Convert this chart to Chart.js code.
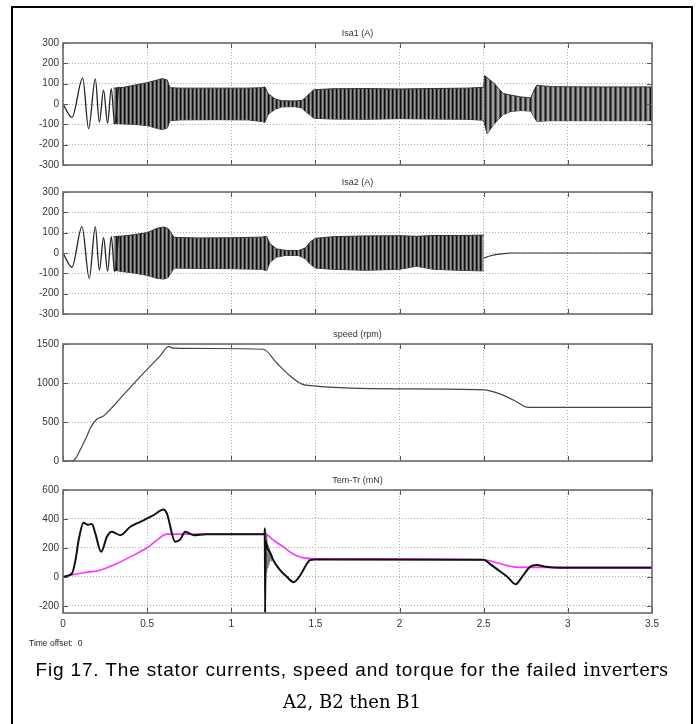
<!DOCTYPE html>
<html>
<head>
<meta charset="utf-8">
<script src="https://cdn.jsdelivr.net/npm/chart.js@4/dist/chart.umd.min.js"></script>
<style>
body{margin:0;background:#fff;width:696px;height:724px;overflow:hidden;position:relative}
#frame{position:absolute;left:11px;top:6px;width:678px;height:740px;border:2px solid #000}
.box{position:absolute;left:0;width:696px}
#offset{position:absolute;left:29px;top:638px;font:8.5px "Liberation Sans",Arial,sans-serif;color:#223}
#cap{position:absolute;left:13px;top:655px;width:678px;text-align:center;line-height:32px;color:#000;white-space:nowrap}
.sans{font:19px "Liberation Sans",Arial,sans-serif;letter-spacing:0.85px}
.serif{font:18px "DejaVu Serif",serif}
.inv{letter-spacing:0.3px}
</style>
</head>
<body>
<div id="frame"></div>
<div class="box" style="top:21px;height:154px"><canvas id="c1"></canvas></div>
<div class="box" style="top:170px;height:154px"><canvas id="c2"></canvas></div>
<div class="box" style="top:322px;height:149px"><canvas id="c3"></canvas></div>
<div class="box" style="top:468px;height:169px"><canvas id="c4"></canvas></div>
<div id="offset">Time offset:&nbsp;&nbsp;0</div>
<div id="cap"><span class="sans">Fig 17. The stator currents, speed and torque for the failed </span><span class="serif inv">inverters</span><br><span class="serif">A2, B2 then B1</span></div>
<script>
const titles = ["Isa1 (A)", "Isa2 (A)", "speed (rpm)", "Tem-Tr (mN)"]

const timeTicks = [0, 0.5, 1, 1.5, 2, 2.5, 3, 3.5]
const currentTicks = [-300, -200, -100, 0, 100, 200, 300]
const speedTicks = [0, 500, 1000, 1500]
const torqueTicks = [-200, 0, 200, 400, 600]

// Isa1 : start-up swings, then envelope of the fast oscillation
const isa1StartT = [0, 0.053, 0.117, 0.152, 0.192, 0.216, 0.241, 0.265, 0.287, 0.307, 0.330]
const isa1StartV = [0, -66, 127, -121, 124, -89, 68, -94, 76, -98, 84]
const isa1BandT = [0.30, 0.36, 0.42, 0.50, 0.56, 0.59, 0.62, 0.635, 0.70, 0.90, 1.10, 1.18, 1.20, 1.22, 1.26, 1.30, 1.38, 1.42, 1.44, 1.47, 1.49, 1.60, 1.80, 2.00, 2.20, 2.40, 2.50]
const isa1BandHi = [78, 82, 92, 105, 118, 125, 118, 80, 78, 78, 78, 80, 84, 50, 25, 16, 15, 18, 30, 55, 70, 75, 76, 74, 76, 78, 82]
const isa1BandLo = [-96, -98, -100, -106, -120, -126, -118, -82, -78, -77, -78, -86, -90, -50, -26, -14, -13, -20, -37, -55, -70, -74, -75, -72, -74, -75, -80]
const isa1TailT = [2.50, 2.505, 2.52, 2.56, 2.615, 2.66, 2.72, 2.78, 2.80, 2.815, 2.9, 3.2, 3.5]
const isa1TailHi = [82, 140, 130, 103, 52, 44, 35, 30, 70, 92, 85, 84, 84]
const isa1TailLo = [-80, -100, -147, -100, -53, -37, -32, -35, -65, -85, -82, -82, -82]

// Isa2
const isa2StartT = [0, 0.053, 0.113, 0.156, 0.192, 0.216, 0.241, 0.265, 0.287, 0.307, 0.330]
const isa2StartV = [0, -70, 130, -125, 130, -85, 75, -90, 80, -92, 84]
const isa2BandT = [0.30, 0.36, 0.42, 0.50, 0.56, 0.60, 0.625, 0.66, 0.80, 1.00, 1.18, 1.21, 1.23, 1.27, 1.32, 1.40, 1.44, 1.47, 1.50, 1.60, 1.80, 2.00, 2.10, 2.20, 2.35, 2.50]
const isa2BandHi = [80, 84, 90, 100, 122, 128, 120, 77, 74, 75, 78, 82, 45, 20, 13, 12, 25, 55, 72, 80, 84, 85, 82, 86, 86, 88]
const isa2BandLo = [-84, -92, -98, -110, -125, -128, -120, -74, -76, -77, -80, -87, -45, -20, -12, -12, -28, -55, -74, -80, -85, -80, -65, -80, -85, -88]
const isa2TailT = [2.5, 2.53, 2.57, 2.62, 2.66, 3.5]
const isa2TailV = [-25, -16, -8, -3, 0, 0]

// speed
const speedT = [0, 0.06, 0.073, 0.09, 0.113, 0.14, 0.162, 0.2, 0.241, 0.30, 0.36, 0.43, 0.5, 0.578, 0.627, 0.657, 0.9, 1.19, 1.27, 1.35, 1.42, 1.49, 1.71, 2.0, 2.5, 2.6, 2.7, 2.755, 2.8, 3.5]
const speedV = [0, 5, 30, 90, 190, 310, 420, 535, 578, 705, 850, 1015, 1174, 1350, 1467, 1446, 1442, 1433, 1257, 1089, 985, 963, 934, 925, 912, 858, 754, 691, 688, 688]

// torque
const temT = [0, 0.053, 0.075, 0.093, 0.122, 0.147, 0.172, 0.192, 0.227, 0.261, 0.291, 0.34, 0.4, 0.459, 0.538, 0.597, 0.617, 0.667, 0.697, 0.726, 0.776, 0.85, 1.198, 1.2, 1.201, 1.204, 1.215, 1.23, 1.25, 1.29, 1.33, 1.37, 1.41, 1.45, 1.468, 1.5, 2.5, 2.54, 2.6, 2.64, 2.69, 2.725, 2.775, 2.815, 2.87, 2.95, 3.5]
const temV = [0, 23, 120, 254, 374, 360, 365, 300, 173, 277, 311, 288, 346, 380, 426, 466, 439, 242, 259, 311, 288, 295, 295, 335, -250, 250, 200, 170, 115, 46, 0, -37, 11, 92, 115, 120, 118, 86, 35, 0, -51, -5, 69, 81, 69, 63, 63]
const rippleT = [1.195, 1.197, 1.199, 1.201, 1.203, 1.205, 1.207, 1.209, 1.212, 1.215, 1.218, 1.221, 1.224, 1.228, 1.232, 1.236, 1.24, 1.245, 1.25]
const rippleV = [300, -20, 330, -20, 320, 0, 300, 30, 260, 60, 220, 80, 200, 100, 170, 110, 150, 120, 115]
const trT = [0, 0.122, 0.221, 0.32, 0.42, 0.5, 0.558, 0.617, 1.2, 1.25, 1.31, 1.37, 1.43, 1.5, 2.5, 2.577, 2.676, 2.735, 3.5]
const trV = [0, 28, 46, 92, 150, 201, 254, 295, 295, 253, 207, 156, 131, 125, 118, 97, 69, 65, 65]


function pts(t, v){
return t.map((x,i)=>({x:x, y:v[i]}))
}

function stripes(cols){
const c = document.createElement("canvas")
c.width = cols.length
c.height = 1
const g = c.getContext("2d")
cols.forEach((col,i)=>{
g.fillStyle = col
g.fillRect(i,0,1,1)
})
return g.createPattern(c,"repeat")
}

const dense = stripes(["#111","#444","#9a9a9a","#666"])
const sparse = stripes(["#1a1a1a","#555","#999","#a8a8a8","#555"])

// frame, inward ticks in the scope style
const scopePlugin = {
id:"scope",
afterDraw(chart){
const {ctx, chartArea:a, scales:{x,y}} = chart
ctx.save()
ctx.strokeStyle = "#555"
ctx.lineWidth = 1
ctx.beginPath()
x.ticks.forEach(t=>{
const px = Math.round(x.getPixelForValue(t.value))+0.5
ctx.moveTo(px,a.top); ctx.lineTo(px,a.top+5)
ctx.moveTo(px,a.bottom); ctx.lineTo(px,a.bottom-5)
})
y.ticks.forEach(t=>{
const py = Math.round(y.getPixelForValue(t.value))+0.5
ctx.moveTo(a.left,py); ctx.lineTo(a.left+5,py)
ctx.moveTo(a.right,py); ctx.lineTo(a.right-5,py)
})
ctx.stroke()
ctx.strokeStyle = "#6a6a6a"
ctx.lineWidth = 1.6
ctx.strokeRect(a.left, a.top, a.right-a.left, a.bottom-a.top)
ctx.restore()
}
}

function makeChart(id, idx, datasets, yMin, yMax, yTicks, showX){
return new Chart(document.getElementById(id),{
type:"line",
data:{datasets},
plugins:[scopePlugin],
options:{
responsive:true,
maintainAspectRatio:false,
animation:false,
layout:{padding:{left:13, right:44, top:7.2, bottom: showX ? 4 : 8}},
elements:{point:{radius:0}, line:{borderJoinStyle:"round"}},
plugins:{
legend:{display:false},
tooltip:{enabled:false},
title:{
display:true,
text:titles[idx],
fullSize:false,
color:"#333",
font:{family:"Liberation Sans", size:9, weight:"normal"},
padding:{top:0, bottom:4}
}
},
scales:{
x:{
type:"linear",
min:0, max:3.5,
afterBuildTicks:s=>{ s.ticks = timeTicks.map(v=>({value:v})) },
afterFit:s=>{ s.height = showX ? 20 : 0 },
grid:{color:"#aaa", drawTicks:false},
border:{display:false, dash:[1,2]},
ticks:{display:showX, padding:5, color:"#333", font:{family:"Liberation Sans", size:10}, callback:v=>String(v), maxRotation:0}
},
y:{
min:yMin, max:yMax,
afterBuildTicks:s=>{ s.ticks = yTicks.map(v=>({value:v})) },
afterFit:s=>{ s.width = 50 },
grid:{color:"#aaa", drawTicks:false},
border:{display:false, dash:[1,2]},
ticks:{padding:4, color:"#333", font:{family:"Liberation Sans", size:10}, callback:v=>String(v)}
}
}
}
})
}

function bandSets(t, hi, lo, pattern){
return [
{data:pts(t,hi), borderColor:"#333", borderWidth:1, backgroundColor:pattern, fill:"+1", tension:0},
{data:pts(t,lo), borderColor:"#333", borderWidth:1, fill:false, tension:0}
]
}

makeChart("c1", 0, [
{data:pts(isa1StartT,isa1StartV), borderColor:"#222", borderWidth:1.3, cubicInterpolationMode:"monotone", fill:false},
...bandSets(isa1BandT, isa1BandHi, isa1BandLo, dense),
...bandSets(isa1TailT, isa1TailHi, isa1TailLo, sparse)
], -300, 300, currentTicks, false)

makeChart("c2", 1, [
{data:pts(isa2StartT,isa2StartV), borderColor:"#222", borderWidth:1.3, cubicInterpolationMode:"monotone", fill:false},
...bandSets(isa2BandT, isa2BandHi, isa2BandLo, dense),
{data:pts(isa2TailT,isa2TailV), borderColor:"#333", borderWidth:1.2, fill:false, tension:0}
], -300, 300, currentTicks, false)

makeChart("c3", 2, [
{data:pts(speedT,speedV), borderColor:"#444", borderWidth:1.2, cubicInterpolationMode:"monotone", fill:false}
], 0, 1500, speedTicks, false)

makeChart("c4", 3, [
{data:pts(temT,temV), borderColor:"#111", borderWidth:2, cubicInterpolationMode:"monotone", fill:false},
{data:pts(rippleT,rippleV), borderColor:"#777", borderWidth:1, tension:0, fill:false},
{data:pts(trT,trV), borderColor:"#ff33ff", borderWidth:1.6, cubicInterpolationMode:"monotone", fill:false}
], -250, 600, torqueTicks, true)
</script>
</body>
</html>
